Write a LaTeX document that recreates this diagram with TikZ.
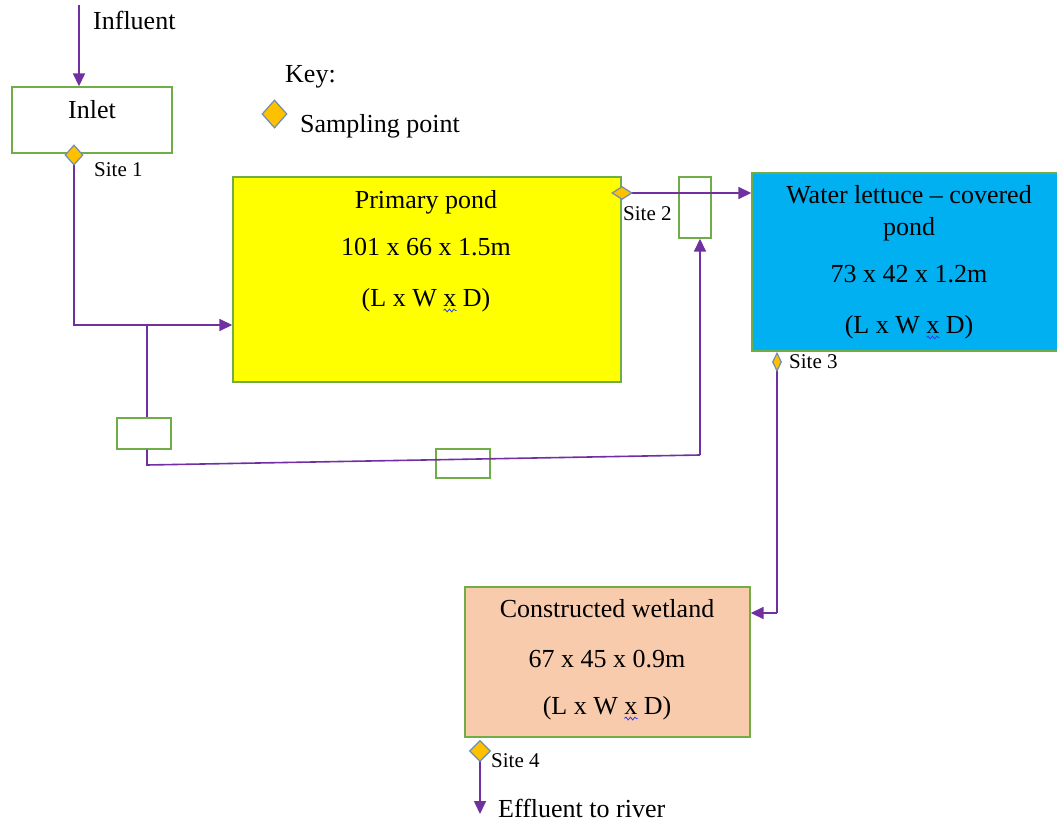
\documentclass[tikz,border=0pt]{standalone}
\usepackage{fontspec}
\setmainfont{Liberation Serif}
\usetikzlibrary{arrows.meta,shapes.geometric,decorations.pathmorphing}
\definecolor{boxgreen}{HTML}{70AD47}
\definecolor{flowpurple}{HTML}{7030A0}
\definecolor{sampfill}{HTML}{FFC000}
\definecolor{sampedge}{HTML}{6E8FAF}
\definecolor{lettuceblue}{HTML}{00B0F0}
\definecolor{pondyellow}{HTML}{FFFF00}
\definecolor{wetpeach}{HTML}{F8CBAD}
\definecolor{spellblue}{HTML}{2F3FE0}
\tikzset{
  unitbox/.style={draw=boxgreen, line width=1.4pt, rectangle, inner sep=0pt},
  txt/.style={inner sep=0pt, anchor=base, font=\fontsize{26pt}{30pt}\selectfont},
  txtl/.style={txt, anchor=base west},
  sitetxt/.style={inner sep=0pt, anchor=base west, font=\fontsize{21pt}{25pt}\selectfont},
  pline/.style={draw=flowpurple, line width=1.6pt},
  flow/.style={pline, -{Triangle[length=13pt,width=12pt]}},
  samp/.style={diamond, draw=sampedge, fill=sampfill, line width=1.2pt, inner sep=0pt, minimum width=18pt, minimum height=20pt},
  wave/.style={draw=spellblue, line width=0.8pt, decorate, decoration={snake, amplitude=1.4pt, segment length=4.5pt}},
}
\newcommand{\spellwave}[1]{%
  \node[txt, anchor=base west] (#1-pre) at (#1.base west) {\phantom{(L x W }};
  \draw[wave] ([yshift=-4.5pt]#1-pre.base east) -- ++(13,0);}
\begin{document}
\begin{tikzpicture}[x=1pt,y=-1pt]
\clip (0,0) rectangle (1057,821);
\fill[white] (0,0) rectangle (1057,821);
% boxes
\node[unitbox, fill=white, minimum width=160pt, minimum height=66pt] (inlet) at (92,120) {};
\node[unitbox, fill=pondyellow, minimum width=388pt, minimum height=205pt] (pp) at (427,279.5) {};
\node[unitbox, fill=lettuceblue, minimum width=314pt, minimum height=178pt] (wl) at (909,262) {};
\node[unitbox, fill=wetpeach, minimum width=285pt, minimum height=150pt] (cw) at (607.5,662) {};
\node[unitbox, minimum width=32pt, minimum height=61pt] (sb) at (695,207.5) {};
\node[unitbox, fill=white, minimum width=54pt, minimum height=31pt] (b1) at (144,433.5) {};
\node[unitbox, minimum width=54pt, minimum height=29pt] (b2) at (463,463.5) {};
% texts
\node[txtl] (tinf) at (93,30) {Influent};
\node[txt] (tinlet) at (92,119) {Inlet};
\node[txtl] (tkey) at (285,83) {Key:};
\node[txtl] (tsamp) at (300,133) {Sampling point};
\node[txt] (tpp1) at (426,208) {Primary pond};
\node[txt] (tpp2) at (426,255) {101 x 66 x 1.5m};
\node[txt] (tpp3) at (426,306) {(L x W x D)};
\spellwave{tpp3}
\node[txt] (twl1) at (909,204) {Water lettuce -- covered};
\node[txt] (twl2) at (909,235) {pond};
\node[txt] (twl3) at (909,282) {73 x 42 x 1.2m};
\node[txt] (twl4) at (909,333) {(L x W x D)};
\spellwave{twl4}
\node[txt] (tcw1) at (607,617) {Constructed wetland};
\node[txt] (tcw2) at (607,667) {67 x 45 x 0.9m};
\node[txt] (tcw3) at (607,714) {(L x W x D)};
\spellwave{tcw3}
\node[txtl] (teff) at (498,817) {Effluent to river};
\node[sitetxt] (ts1) at (94,177) {Site 1};
\node[sitetxt] (ts2) at (623,221) {Site 2};
\node[sitetxt] (ts3) at (789,368) {Site 3};
\node[sitetxt] (ts4) at (491,767) {Site 4};
% coordinates
\coordinate (inflow) at (79,5);
\coordinate (j1) at (147,325);
\coordinate (bl) at (147,465);
\coordinate (br) at (700,455);
\coordinate (c3) at (777,613);
\coordinate (efl) at (480,814);
% sampling points (positions)
\path (74,155) coordinate (p1) (622,193) coordinate (p2) (777,362) coordinate (p3) (480,751) coordinate (p4);
% connectors
\draw[flow] (inflow) -- (inflow |- inlet.north);
\draw[flow] (p1) |- (pp.west |- j1);
\draw[pline] (j1) -- (j1 |- b1.north);
\draw[pline] (j1 |- b1.south) -- (bl) -- (br);
\draw[flow] (br) -- (br |- sb.south);
\draw[flow] (p2) -- (wl.west |- p2);
\draw[pline] (p3) -- (c3);
\draw[flow] (c3) -- (cw.east |- c3);
\draw[flow] (p4) -- (efl);
% diamonds
\node[samp] (s1) at (p1) {};
\node[samp, minimum width=20pt, minimum height=13pt] (s2) at (p2) {};
\node[samp, minimum width=9pt, minimum height=18pt] (s3) at (p3) {};
\node[samp, minimum width=21pt, minimum height=21pt] (s4) at (p4) {};
\node[samp, minimum width=25pt, minimum height=28pt] (skey) at (274.5,114) {};
\end{tikzpicture}
\end{document}
